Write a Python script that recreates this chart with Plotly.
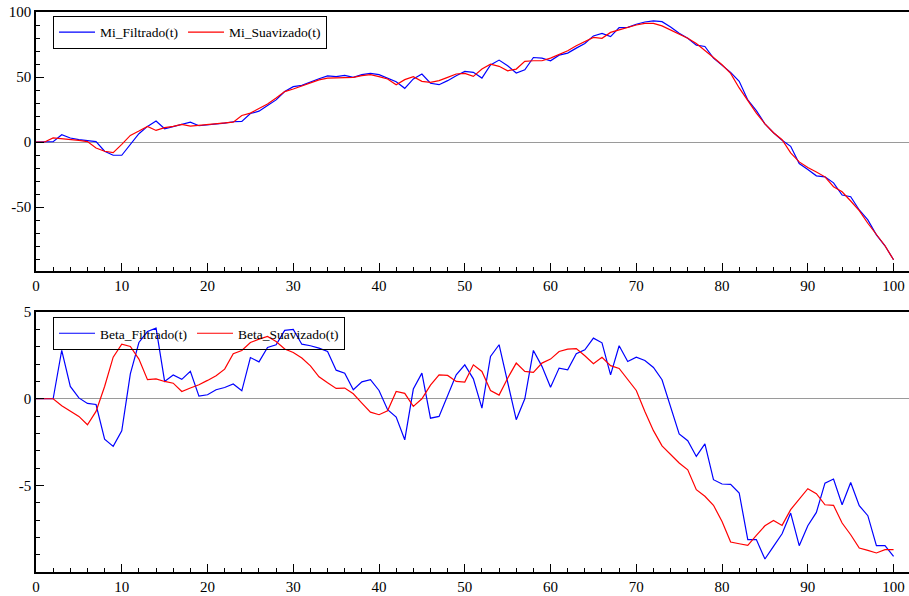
import plotly.graph_objects as go

# time index
t = list(range(101))

mi_filtrado = [
    0, 0, 0.3, 5.6, 3.1, 1.8, 0.8, 0.3, -7.1, -10.2,
    -10.2, -1.8, 6.4, 12, 16.1, 10.2, 12, 13.3, 15.3, 12.5,
    13, 13.8, 14.5, 15.6, 15.8, 21.9, 23.7, 28.1, 32.4, 38.8,
    42.6, 43.6, 46.3, 48.7, 50.9, 50.3, 51.3, 49.7, 51.8, 52.8,
    51.8, 49, 46.4, 41.3, 48.5, 52.3, 45.2, 44.1, 47.2, 51,
    54.3, 53.6, 49.2, 59.2, 63, 58.7, 53.1, 55.6, 65, 64.5,
    62.5, 66.8, 68.4, 72.2, 75.8, 81.6, 83.5, 81.1, 88, 88.2,
    90.6, 92.3, 93.1, 92.6, 88.5, 83.7, 79.8, 74.5, 73.5, 64.5,
    59.4, 53.6, 46.7, 32.4, 24.2, 14, 7.1, 1.3, -3.3, -16.6,
    -21.2, -26, -26.8, -31.4, -40.8, -42.1, -52.3, -59.9, -71.4, -79.8,
    -90.6,
]

mi_suavizado = [
    0, 0, 3.1, 2.6, 2, 1.3, 0.3, -4.6, -7.1, -8.2,
    -1.8, 5.1, 8.4, 12, 8.9, 11, 12, 13.5, 12.2, 12.8,
    13.3, 14, 14.8, 15.3, 20.4, 22.2, 25.8, 29.3, 33.9, 38.8,
    40.8, 43.1, 45.6, 47.8, 49.1, 49.2, 49.7, 49.7, 51, 51.8,
    50.3, 48.5, 44.1, 48, 50.3, 46.7, 45.9, 47.2, 49.7, 52.3,
    52.8, 50.5, 56.1, 59.9, 58.2, 54.8, 56.1, 62, 62.5, 62.5,
    64.5, 67.1, 70.2, 74, 77.3, 80.4, 79.8, 84.3, 86.3, 88.2,
    90, 91.3, 91.3, 89.3, 86.2, 83.4, 79.8, 75.8, 70.7, 65,
    59.4, 52.8, 41.6, 31.9, 22.2, 14, 7.1, 1.8, -8.4, -15.3,
    -19.6, -23, -26.8, -34.4, -38.3, -45.4, -52.8, -62.5, -70.9, -79.8,
    -90.6,
]

beta_filtrado = [
    0, 0, 0, 2.8, 0.71, 0.05, -0.27, -0.33, -2.33, -2.75,
    -1.85, 1.44, 3.25, 3.88, 4.08, 1.0, 1.37, 1.12, 1.58, 0.15,
    0.23, 0.52, 0.65, 0.85, 0.46, 2.38, 2.13, 2.96, 3.12, 3.95,
    4.0, 3.15, 3.06, 2.92, 2.73, 1.65, 1.48, 0.52, 0.98, 1.10,
    0.48, -0.63, -1.06, -2.37, 0.56, 1.48, -1.12, -1.02, 0.13, 1.38,
    1.96, 1.15, -0.54, 2.44, 3.12, 1.0, -1.21, 0.0, 2.79, 1.87,
    0.67, 1.77, 1.67, 2.6, 2.83, 3.5, 3.23, 1.38, 3.06, 2.15,
    2.4, 2.21, 1.81, 1.1, -0.44, -2.03, -2.42, -3.33, -2.6, -4.67,
    -4.92, -4.94, -5.44, -8.13, -8.13, -9.25, -8.52, -7.79, -6.6, -8.48,
    -7.33, -6.56, -4.87, -4.63, -6.12, -4.83, -6.17, -6.75, -8.48, -8.48,
    -9.1,
]

beta_suavizado = [
    0, 0, 0, -0.4, -0.69, -1.02, -1.5, -0.73, 0.71, 2.4,
    3.15, 3.02, 2.29, 1.1, 1.15, 1.0, 0.9, 0.42, 0.62, 0.81,
    1.06, 1.33, 1.71, 2.6, 2.79, 3.25, 3.44, 3.6, 3.31, 2.87,
    2.67, 2.35, 1.9, 1.27, 0.92, 0.6, 0.62, 0.29, -0.25, -0.77,
    -0.92, -0.69, 0.42, 0.31, -0.44, 0.0, 0.79, 1.38, 1.35, 1.0,
    0.96, 1.96, 1.58, 0.48, 0.21, 1.19, 2.06, 1.58, 1.52, 2.06,
    2.29, 2.73, 2.87, 2.9, 2.48, 2.02, 2.4, 1.91, 1.75, 1.12,
    0.48, -0.73, -1.84, -2.72, -3.19, -3.71, -4.1, -5.25, -5.63, -6.15,
    -7.08, -8.27, -8.37, -8.46, -7.88, -7.33, -7.02, -7.31, -6.4, -5.79,
    -5.19, -5.48, -6.12, -6.15, -7.17, -7.85, -8.62, -8.75, -8.9, -8.71,
    -8.71,
]

x_ticks = [0, 10, 20, 30, 40, 50, 60, 70, 80, 90, 100]
mi_ticks = [100, 50, 0, -50]
mi_ticktext = ["100", "50", "0", "-50"]
beta_ticks = [5, 0, -5]
beta_ticktext = ["5", "0", "-5"]

BLUE = "#0000ff"
RED = "#ff0000"
FONT = "Liberation Serif"

fig = go.Figure()

fig.add_trace(go.Scatter(x=t, y=mi_filtrado, mode="lines", name="Mi_Filtrado(t)",
                         line=dict(color=BLUE, width=1.2), xaxis="x", yaxis="y", legend="legend"))
fig.add_trace(go.Scatter(x=t, y=mi_suavizado, mode="lines", name="Mi_Suavizado(t)",
                         line=dict(color=RED, width=1.2), xaxis="x", yaxis="y", legend="legend"))
fig.add_trace(go.Scatter(x=t, y=beta_filtrado, mode="lines", name="Beta_Filtrado(t)",
                         line=dict(color=BLUE, width=1.2), xaxis="x2", yaxis="y2", legend="legend2"))
fig.add_trace(go.Scatter(x=t, y=beta_suavizado, mode="lines", name="Beta_Suavizado(t)",
                         line=dict(color=RED, width=1.2), xaxis="x2", yaxis="y2", legend="legend2"))

xcommon = dict(
    range=[0, 101.8], tickmode="array", tickvals=x_ticks,
    ticks="inside", ticklen=8, tickwidth=1.3, tickcolor="black",
    minor=dict(tickmode="linear", tick0=0, dtick=2, ticks="inside", ticklen=4,
               tickwidth=1.1, tickcolor="black"),
    showline=True, linecolor="black", linewidth=1.6, mirror=True,
    showgrid=False, zeroline=False,
    tickfont=dict(family=FONT, size=15, color="black"),
)

ycommon = dict(
    ticks="inside", ticklen=8, tickwidth=1.3, tickcolor="black",
    showline=True, linecolor="black", linewidth=1.6,
    showgrid=False, zeroline=True, zerolinecolor="#9a9a9a", zerolinewidth=1.3,
    tickfont=dict(family=FONT, size=15, color="black"),
)

legend_common = dict(
    orientation="h", xanchor="left", yanchor="top",
    bgcolor="rgba(255,255,255,0)", bordercolor="black", borderwidth=1,
    font=dict(family=FONT, size=13.5, color="black"),
    itemwidth=36, tracegroupgap=0,
)

fig.update_layout(
    width=909, height=596,
    margin=dict(l=36, r=0, t=12, b=24),
    paper_bgcolor="white", plot_bgcolor="white",
    showlegend=True,
    xaxis=dict(domain=[0, 1], anchor="y", **xcommon),
    yaxis=dict(domain=[0.538, 1], anchor="x", range=[-99, 100],
               tickmode="array", tickvals=mi_ticks, ticktext=mi_ticktext,
               minor=dict(tickmode="linear", tick0=0, dtick=10, ticks="inside",
                          ticklen=4, tickwidth=1.1, tickcolor="black"),
               **ycommon),
    xaxis2=dict(domain=[0, 1], anchor="y2", **xcommon),
    yaxis2=dict(domain=[0, 0.464], anchor="x2", range=[-10, 5],
                tickmode="array", tickvals=beta_ticks, ticktext=beta_ticktext,
                minor=dict(tickmode="linear", tick0=0, dtick=1, ticks="inside",
                           ticklen=4, tickwidth=1.1, tickcolor="black"),
                **ycommon),
    legend=dict(x=0.0195, y=0.993, **legend_common),
    legend2=dict(x=0.0195, y=0.4554, **legend_common),
)

fig.write_html("out.html")
